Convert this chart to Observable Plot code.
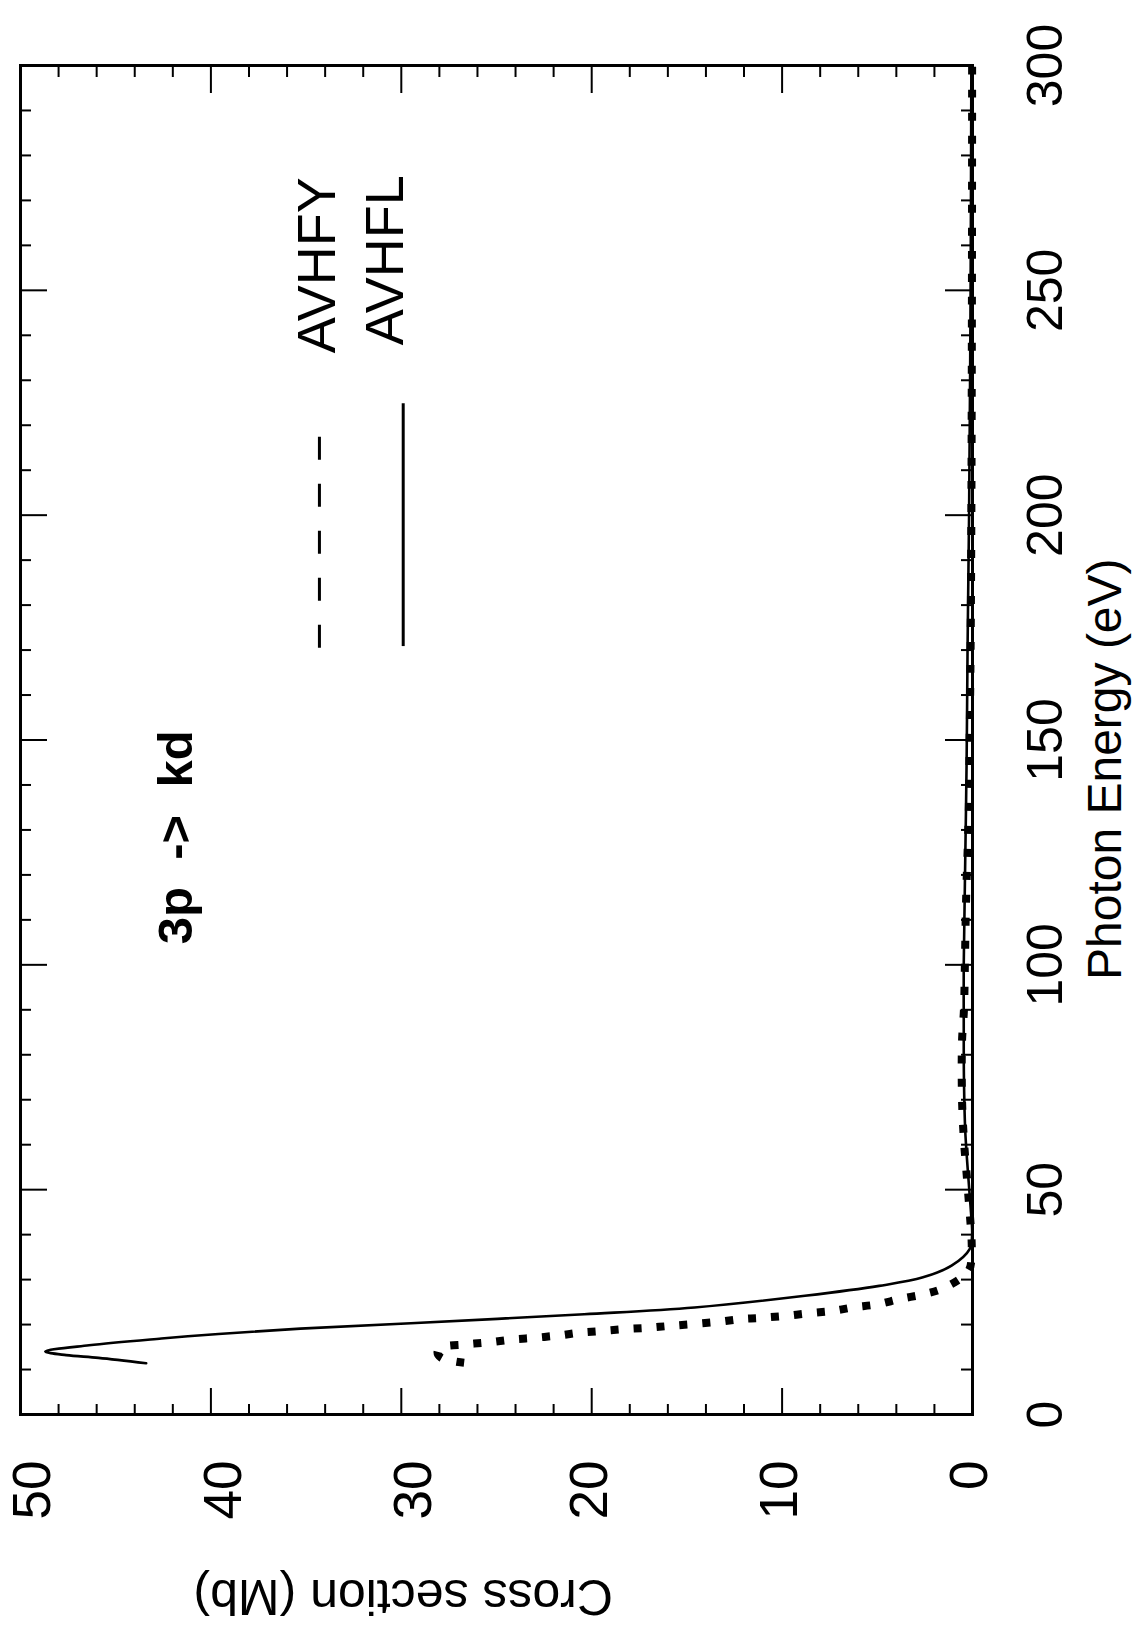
<!DOCTYPE html>
<html>
<head>
<meta charset="utf-8">
<script src="https://cdn.jsdelivr.net/npm/d3@7"></script>
<script src="https://cdn.jsdelivr.net/npm/@observablehq/plot@0.6"></script>
<style>
  html, body { margin: 0; padding: 0; background: #fff; }
  #wrap { position: relative; width: 1143px; height: 1631px; overflow: hidden; background: #fff; }
</style>
</head>
<body>
<div id="wrap"></div>
<script>
// ---------- data ----------
const energyTicks = [0, 50, 100, 150, 200, 250, 300];
const crossTicksLow = [0, 10, 20];
const crossTicksHigh = [30, 40, 50];
const energyMinorTicks = [10, 20, 30, 40, 60, 70, 80, 90, 110, 120, 130, 140, 160, 170, 180, 190, 210, 220, 230, 240, 260, 270, 280, 290];
const energyMajorTicks = [50, 100, 150, 200, 250];
const crossMinorTicks = [2, 4, 6, 8, 12, 14, 16, 18, 22, 24, 26, 28, 32, 34, 36, 38, 42, 44, 46, 48];
const crossMajorTicks = [10, 20, 30, 40];

// AVHFL (solid line)
const avhflEnergy = [11.4, 12.6, 13.2, 14.0, 15.4, 16.9, 17.9, 19.1, 20.3, 22.3, 23.8, 26.4, 28.6, 30.5, 33.1, 36.8, 40, 45, 50, 63, 75, 88, 100, 118, 145, 170, 200, 250, 300];
const avhflCross  = [43.4, 45.9, 47.6, 48.7, 46.4, 42.6, 39.6, 35.3, 29.5, 20.4, 14.6, 8.8, 4.9, 2.6, 1.1, 0.15, 0.02, 0.08, 0.17, 0.38, 0.45, 0.46, 0.46, 0.4, 0.31, 0.26, 0.18, 0.1, 0.06];

// AVHFY (heavy dotted line)
const avhfyEnergy = [11.5, 12.6, 13.8, 14.9, 15.6, 16.1, 16.7, 17.1, 17.6, 18.2, 18.6, 19.0, 19.3, 19.7, 20.1, 20.6, 21.2, 21.5, 21.9, 22.5, 23.0, 23.8, 24.5, 25.7, 26.8, 28.2, 32.0, 36, 39, 45, 53, 61, 70, 83, 90, 100, 112, 120, 133, 150, 170, 200, 250, 300];
const avhfyCross  = [26.7, 27.9, 28.1, 27.9, 26.6, 25.3, 24.1, 22.9, 21.7, 20.6, 19.4, 18.2, 17.0, 15.9, 14.7, 13.4, 12.2, 11.1, 9.9, 8.6, 7.4, 6.3, 5.0, 3.8, 2.5, 1.47, 0.2, 0.05, 0.05, 0.15, 0.3, 0.45, 0.55, 0.55, 0.45, 0.4, 0.35, 0.3, 0.2, 0.15, 0.1, 0.06, 0.03, 0.02];

// legend (in data units)
const seriesNames = ["AVHFY", "AVHFL"];
const legendLineEnergyStart = [170.6, 171.0];
const legendLineEnergyEnd = [218.4, 225.0];
const legendLineCross = [34.3, 29.9];
const legendTextEnergy = [236.0, 237.8];
const legendTextCross = [34.4, 30.8];

// annotation and labels
const annotationText = ["3p\u00a0\u00a0->\u00a0\u00a0kd"];
const annotationEnergy = [104.6];
const annotationCross = [41.8];
const xLabel = ["Photon Energy (eV)"];
const xLabelEnergy = [143.5];
const yLabel = ["Cross section (Mb)"];
const yLabelCross = [29.9];

// ---------- build ----------
const FONT = "'Liberation Sans', Arial, Helvetica, sans-serif";
const W = 1631, H = 1143;
const MT = 20, MR = 66, MB = 171, ML = 216;
const FW = W - ML - MR, FH = H - MT - MB;
const minorLen = 11, majorLen = 27;

const avhfl = avhflEnergy.map((e, i) => ({energy: e, cross: avhflCross[i]}));
const avhfy = avhfyEnergy.map((e, i) => ({energy: e, cross: avhfyCross[i]}));
const legend = seriesNames.map((name, i) => ({
  name,
  x1: legendLineEnergyStart[i], x2: legendLineEnergyEnd[i], y: legendLineCross[i],
  tx: legendTextEnergy[i], ty: legendTextCross[i]
}));

const tickStyle = {stroke: "black", strokeWidth: 2};

const chart = Plot.plot({
  width: W, height: H,
  marginTop: MT, marginRight: MR, marginBottom: MB, marginLeft: ML,
  x: {domain: [0, 300]},
  y: {domain: [0, 50]},
  style: {fontFamily: FONT, background: "white", maxWidth: "none", overflow: "visible", color: "black"},
  marks: [
    // inward ticks: energy (bottom and top edges)
    Plot.tickX(energyMinorTicks, {x: d => d, insetTop: FH - minorLen, ...tickStyle}),
    Plot.tickX(energyMajorTicks, {x: d => d, insetTop: FH - majorLen, ...tickStyle}),
    Plot.tickX(energyMinorTicks, {x: d => d, insetBottom: FH - minorLen, ...tickStyle}),
    Plot.tickX(energyMajorTicks, {x: d => d, insetBottom: FH - majorLen, ...tickStyle}),
    // inward ticks: cross section (left and right edges)
    Plot.tickY(crossMinorTicks, {y: d => d, insetRight: FW - minorLen, ...tickStyle}),
    Plot.tickY(crossMajorTicks, {y: d => d, insetRight: FW - majorLen, ...tickStyle}),
    Plot.tickY(crossMinorTicks, {y: d => d, insetLeft: FW - minorLen, ...tickStyle}),
    Plot.tickY(crossMajorTicks, {y: d => d, insetLeft: FW - majorLen, ...tickStyle}),

    // tick labels
    Plot.axisX(energyTicks, {tickSize: 0, tickPadding: 54, fontSize: 50, label: null, tickFormat: d => String(d)}),
    Plot.axisY(crossTicksLow, {tickSize: 0, tickPadding: 46, fontSize: 53, dy: -2, label: null, tickFormat: d => String(d)}),
    Plot.axisY(crossTicksHigh, {tickSize: 0, tickPadding: 46, fontSize: 53, dy: 13, label: null, tickFormat: d => String(d)}),

    // axis titles
    Plot.text(xLabel, {x: xLabelEnergy, text: d => d, frameAnchor: "bottom", textAnchor: "middle", dy: 148, fontSize: 48, fill: "black"}),
    Plot.text(yLabel, {y: yLabelCross, text: d => d, frameAnchor: "left", textAnchor: "middle", dx: -181, rotate: -90, fontSize: 50, fill: "black"}),

    // curves
    Plot.line(avhfl, {x: "energy", y: "cross", curve: "catmull-rom", stroke: "black", strokeWidth: 2.6}),
    Plot.line(avhfy, {x: "energy", y: "cross", curve: "catmull-rom", stroke: "black", strokeWidth: 8, strokeDasharray: "8,15", strokeLinecap: "butt"}),

    // annotation
    Plot.text(annotationText, {x: annotationEnergy, y: annotationCross, text: d => d, textAnchor: "start", fontSize: 49, fontWeight: "bold", fill: "black"}),

    // legend
    Plot.ruleY(legend.filter(d => d.name === "AVHFY"), {y: "y", x1: "x1", x2: "x2", stroke: "black", strokeWidth: 3, strokeDasharray: "23,24"}),
    Plot.ruleY(legend.filter(d => d.name === "AVHFL"), {y: "y", x1: "x1", x2: "x2", stroke: "black", strokeWidth: 3}),
    Plot.text(legend, {x: "tx", y: "ty", text: "name", textAnchor: "start", fontSize: 54, fill: "black"}),

    // frame
    Plot.frame({stroke: "black", strokeWidth: 3})
  ]
});

chart.style.position = "absolute";
chart.style.left = "0px";
chart.style.top = "0px";
chart.style.transformOrigin = "0 0";
chart.style.transform = "translate(0px, 1631px) rotate(-90deg)";
document.getElementById("wrap").appendChild(chart);
</script>
</body>
</html>
